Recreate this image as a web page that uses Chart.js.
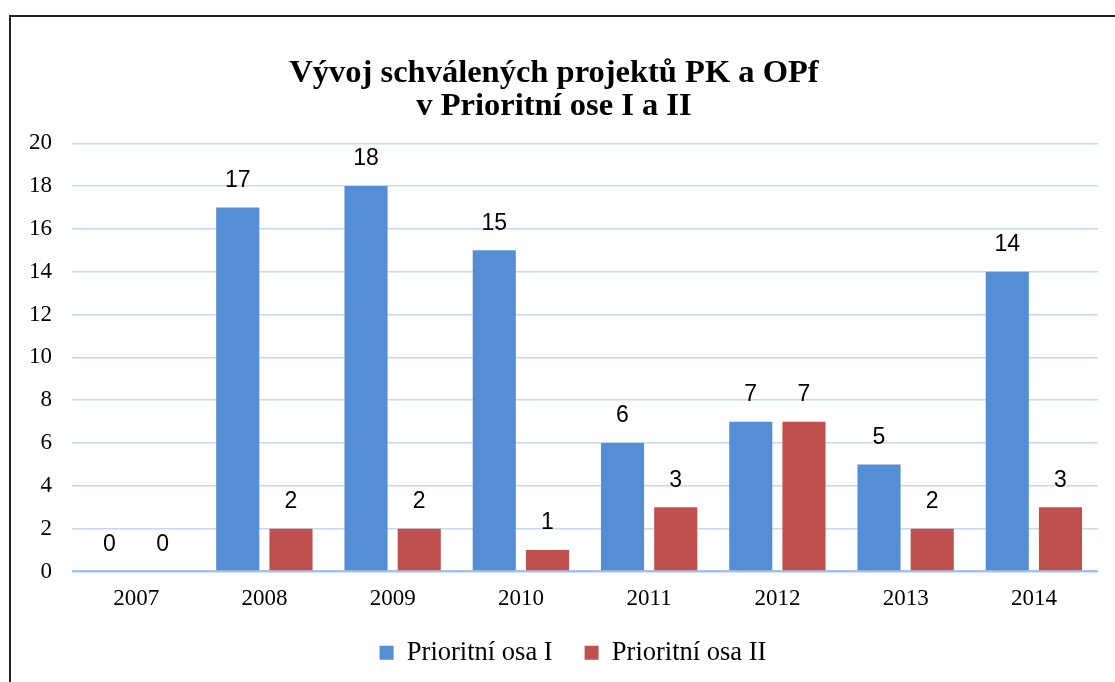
<!DOCTYPE html>
<html>
<head>
<meta charset="utf-8">
<script src="https://cdn.jsdelivr.net/npm/chart.js@4"></script>
<style>
  html, body { margin: 0; padding: 0; background: #fff; overflow: hidden; }
  #wrap { position: relative; width: 1115px; height: 682px; }
  #frame { position: absolute; left: 9px; top: 15px; width: 1200px; height: 800px; border: 2px solid #222; box-sizing: border-box; }
  canvas { position: absolute; left: 0; top: 0; }
</style>
</head>
<body>
<div id="wrap">
  <div id="frame"></div>
  <canvas id="chart" width="1115" height="682"></canvas>
</div>
<script>
const years = ['2007', '2008', '2009', '2010', '2011', '2012', '2013', '2014'];
const osaI = [0, 17, 18, 15, 6, 7, 5, 14];
const osaII = [0, 2, 2, 1, 3, 7, 2, 3];
const titleLines = ['Vývoj schválených projektů PK a OPf', 'v Prioritní ose I a II'];

const serif = 'Liberation Serif';

// popisky hodnot nad sloupci
const valueLabels = {
    id: 'valueLabels',
    afterDatasetsDraw(chart) {
        const ctx = chart.ctx;
        ctx.save();
        ctx.font = '23px "Liberation Sans"';
        ctx.fillStyle = '#000';
        ctx.textAlign = 'center';
        ctx.textBaseline = 'middle';
        chart.data.datasets.forEach((ds, i) => {
            chart.getDatasetMeta(i).data.forEach((bar, j) => {
                ctx.fillText(ds.data[j], bar.x, bar.y - 27);
            });
        });
        ctx.restore();
    }
};

// legenda je v originale trochu vpravo
const legendShift = {
    id: 'legendShift',
    afterLayout(chart) {
        chart.legend.left += 19;
        chart.legend.right += 19;
    }
};

const config = {
    type: 'bar',
    data: {
        labels: years,
        datasets: [{
            label: 'Prioritní osa I',
            backgroundColor: '#558ed5',
            data: osaI
        },
        {
            label: 'Prioritní osa II',
            backgroundColor: '#c0504d',
            data: osaII
        }]
    },
    options: {
        responsive: false,
        animation: false,
        categoryPercentage: 0.83,
        barPercentage: 0.81,
        layout: {
            padding: { left: 10, right: 17, top: 0, bottom: 6 }
        },
        scales: {
            x: {
                grid: { display: false },
                border: { display: false },
                ticks: {
                    color: '#000',
                    padding: 6,
                    font: { family: serif, size: 23 }
                },
                afterFit(scale) { scale.height = 36; }
            },
            y: {
                min: 0,
                max: 20,
                border: { display: false },
                grid: {
                    drawTicks: false,
                    color: (c) => c.tick && c.tick.value === 0 ? '#a6c1e8' : '#c6d9f2',
                    lineWidth: (c) => c.tick && c.tick.value === 0 ? 2.5 : 1.5
                },
                ticks: {
                    stepSize: 2,
                    color: '#000',
                    padding: 20,
                    font: { family: serif, size: 23 }
                },
                afterFit(scale) { scale.width = 62; }
            }
        },
        plugins: {
            title: {
                display: true,
                text: titleLines,
                color: '#000',
                padding: { top: 57, bottom: 20 },
                font: { family: serif, size: 32.5, weight: 'bold', lineHeight: 1.02 }
            },
            legend: {
                position: 'bottom',
                maxHeight: 70,
                labels: {
                    boxWidth: 14,
                    boxHeight: 14,
                    padding: 32,
                    color: '#000',
                    font: { family: serif, size: 26.5 }
                }
            },
            tooltip: { enabled: false }
        }
    },
    plugins: [valueLabels, legendShift]
};

const chart = new Chart(document.getElementById('chart'), config);
</script>
</body>
</html>
